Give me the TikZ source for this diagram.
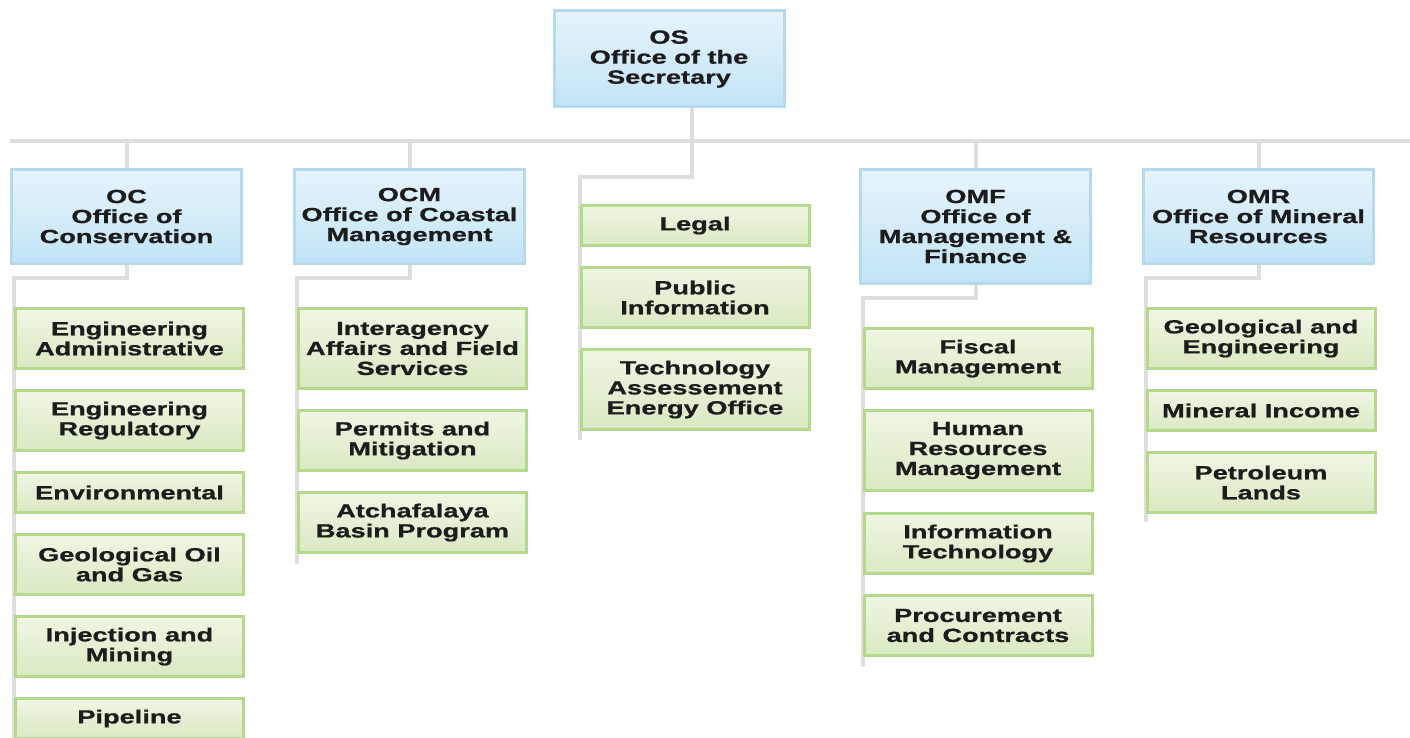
\documentclass[tikz,border=0pt]{standalone}
\usepackage{fontspec}
\newfontfamily\boxfont[FakeStretch=1.43,FakeBold=0.8]{Liberation Sans}
\usepackage{tikz}
\usetikzlibrary{backgrounds,calc}

\definecolor{bluetop}{HTML}{E6F4FC}
\definecolor{bluebot}{HTML}{C2E4F6}
\definecolor{blueedge}{HTML}{B5DAEE}
\definecolor{greentop}{HTML}{EFF6E3}
\definecolor{greenbot}{HTML}{DAE9C3}
\definecolor{greenedge}{HTML}{B4D88C}
\definecolor{linegray}{HTML}{DEDEDE}
\definecolor{textdark}{HTML}{1C1C1C}

\begin{document}
\begin{tikzpicture}[x=0.5pt,y=-0.5pt,
    office/.style={draw=blueedge,line width=1.5pt,top color=bluetop,bottom color=bluebot,
        minimum width=115pt,minimum height=47pt,align=center,inner sep=2pt,
        text=textdark,font=\boxfont\bfseries\fontsize{9.5}{10}\selectfont},
    unit/.style={draw=greenedge,line width=1.5pt,top color=greentop,bottom color=greenbot,
        minimum width=114pt,minimum height=30pt,align=center,inner sep=2pt,
        text=textdark,font=\boxfont\bfseries\fontsize{9.5}{10}\selectfont},
    link/.style={draw=linegray,line width=2pt}]
            \useasboundingbox (0,0) rectangle (1410,738);

            \node (os) at (669,59) [office,minimum width=115pt,minimum height=48pt] {OS\\Office of the\\Secretary};

            \node (oc) at (126.5,216.5) [office] {OC\\Office of\\Conservation};
            \node (ocm) at (409.5,216.5) [office] {OCM\\Office of Coastal\\Management};
            \node (omf) at (975.5,226.5) [office,minimum height=57pt] {OMF\\Office of\\Management \&\\Finance};
            \node (omr) at (1258.5,216.5) [office] {OMR\\Office of Mineral\\Resources};

            \node (oc01) at (129.5,338.5) [unit] {Engineering\\Administrative};
            \node (oc02) at (129.5,420.5) [unit] {Engineering\\Regulatory};
            \node (oc03) at (129.5,492.5) [unit,minimum height=20pt] {Environmental};
            \node (oc04) at (129.5,564.5) [unit] {Geological Oil\\and Gas};
            \node (oc05) at (129.5,646.5) [unit] {Injection and\\Mining};
            \node (oc06) at (129.5,718.5) [unit,minimum height=20pt] {Pipeline};

            \node (ocm01) at (412.5,348.5) [unit,minimum height=40pt] {Interagency\\Affairs and Field\\Services};
            \node (ocm02) at (412.5,440.5) [unit] {Permits and\\Mitigation};
            \node (ocm03) at (412.5,522.5) [unit] {Atchafalaya\\Basin Program};

            \node (cen01) at (695,225.5) [unit,minimum height=20pt] {Legal};
            \node (cen02) at (695,297.5) [unit] {Public\\Information};
            \node (cen03) at (695,389.5) [unit,minimum height=40pt] {Technology\\Assessement\\Energy Office};

            \node (omf01) at (978,358.5) [unit] {Fiscal\\Management};
            \node (omf02) at (978,450.5) [unit,minimum height=40pt] {Human\\Resources\\Management};
            \node (omf03) at (978,543.5) [unit] {Information\\Technology};
            \node (omf04) at (978,625.5) [unit] {Procurement\\and Contracts};

            \node (omr01) at (1261,338.5) [unit] {Geological and\\Engineering};
            \node (omr02) at (1261,410.5) [unit,minimum height=20pt] {Mineral Income};
            \node (omr03) at (1261,482.5) [unit] {Petroleum\\Lands};

            \begin{scope}[on background layer]
            \fill[white] (0,0) rectangle (1410,738);
            \coordinate (busL) at (10,141);
            \coordinate (busR) at (1410,141);
            \draw[link] (busL) -- (busR);
            \draw[link] ([xshift=11.5pt]os.south) -- ++(0,69) -| ([yshift=-4.5pt]cen03.south west);
            \draw[link] (oc.north) -- (oc.north |- busL);
            \draw[link] (ocm.north) -- (ocm.north |- busL);
            \draw[link] (omf.north) -- (omf.north |- busL);
            \draw[link] (omr.north) -- (omr.north |- busL);

            \draw[link] (oc.south) -- ++(0,13) -| ([yshift=-2pt]oc06.south west);
            \draw[link] (ocm.south) -- ++(0,13) -| ([yshift=-5pt]ocm03.south west);
            \draw[link] (omf.south) -- ++(0,13) -| ([yshift=-5pt]omf04.south west);
            \draw[link] (omr.south) -- ++(0,13) -| ([yshift=-4pt]omr03.south west);
            \end{scope}
        \end{tikzpicture}
\end{document}
